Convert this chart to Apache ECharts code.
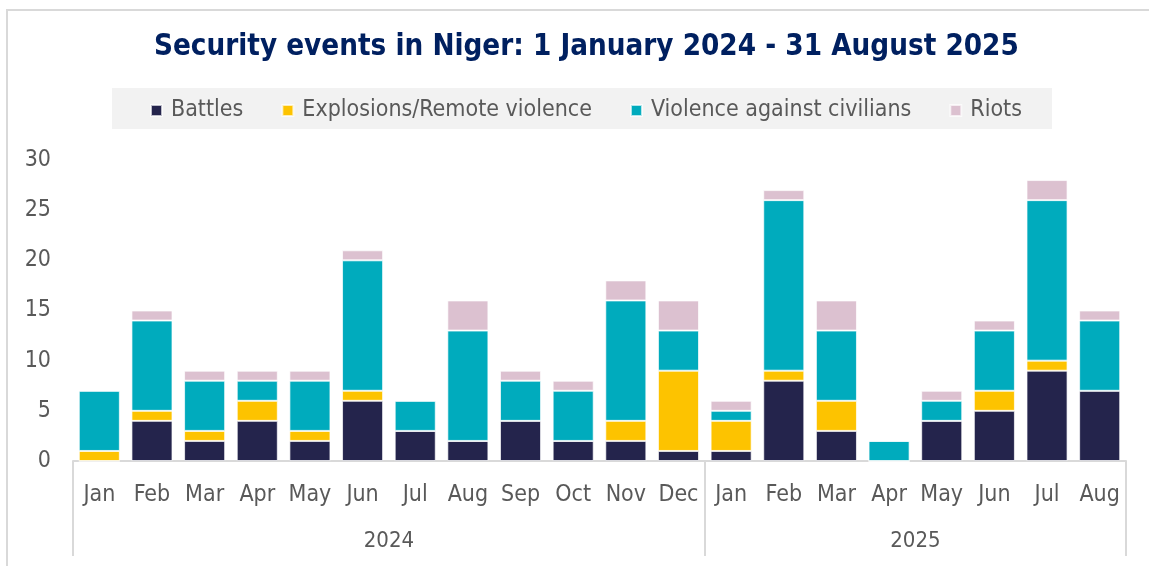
<!DOCTYPE html>
<html>
<head>
<meta charset="utf-8">
<script src="https://cdn.jsdelivr.net/npm/echarts@6/dist/echarts.min.js"></script>
<style>
  html, body { margin: 0; padding: 0; background: #fff; }
  #chart { width: 1149px; height: 566px; }
</style>
</head>
<body>
<div id="chart"></div>
<script>
// months Jan 2024 - Aug 2025
var months = ["Jan", "Feb", "Mar", "Apr", "May", "Jun", "Jul", "Aug", "Sep", "Oct", "Nov", "Dec",
              "Jan", "Feb", "Mar", "Apr", "May", "Jun", "Jul", "Aug"];
var years = ["2024", "2025"];
var battles    = [0, 4, 2, 4, 2, 6, 3, 2, 4, 2, 2, 1,   1, 8, 3, 0, 4, 5, 9, 7];
var explosions = [1, 1, 1, 2, 1, 1, 0, 0, 0, 0, 2, 8,   3, 1, 3, 0, 0, 2, 1, 0];
var civilians  = [6, 9, 5, 2, 5, 13, 3, 11, 4, 5, 12, 4, 1, 17, 7, 2, 2, 6, 16, 7];
var riots      = [0, 1, 1, 1, 1, 1, 0, 3, 1, 1, 2, 3,   1, 1, 3, 0, 1, 1, 2, 1];
var yTicks = [0, 5, 10, 15, 20, 25, 30];

var FONT = '"DejaVu Sans Condensed", "Liberation Sans Narrow", "DejaVu Sans", sans-serif';
var TXT = '#595959';

var myChart = echarts.init(document.getElementById('chart'));

function bar(name, data, color) {
    return {
        name: name,
        type: 'bar',
        stack: 'events',
        data: data,
        barCategoryGap: '22%',
        itemStyle: { color: color, borderColor: 'rgba(255,255,255,0.7)', borderWidth: 1 }
    };
}

var option = {
    backgroundColor: '#fff',
    animation: false,
    graphic: [
        // chart frame
        { type: 'rect', shape: { x: 7, y: 10, width: 1200, height: 600 },
          style: { fill: 'none', stroke: '#d9d9d9', lineWidth: 2 }, z: -10 },
        // legend background
        { type: 'rect', shape: { x: 112, y: 88, width: 940, height: 41 },
          style: { fill: '#f2f2f2' }, z: -5 }
    ],
    title: {
        text: 'Security events in Niger: 1 January 2024 - 31 August 2025',
        left: 149,
        top: 28,
        textStyle: { fontFamily: FONT, fontSize: 29.3, fontWeight: 'bold', color: '#002060' }
    },
    legend: {
        top: 94,
        left: 145,
        itemWidth: 11,
        itemHeight: 11,
        itemGap: 38,
        icon: 'rect',
        textStyle: { fontFamily: FONT, fontSize: 23, color: TXT, padding: [0, 0, 0, 4] },
        data: ['Battles', 'Explosions/Remote violence', 'Violence against civilians', 'Riots']
    },
    grid: { left: 73, right: 23, top: 160, bottom: 105, containLabel: false },
    xAxis: [{
        type: 'category',
        data: months,
        position: 'bottom',
        axisLine: { show: true, lineStyle: { color: '#d9d9d9', width: 2 } },
        axisTick: {
            show: true,
            length: 95,
            lineStyle: { color: '#d9d9d9', width: 2 },
            interval: function (index) { return index === 0 || index === 12; }
        },
        axisLabel: { interval: 0, margin: 23, fontFamily: FONT, fontSize: 23, color: TXT }
    }, {
        type: 'value',
        position: 'bottom',
        offset: 61,
        min: 0,
        max: months.length,
        interval: 2,
        axisLine: { show: false },
        axisTick: { show: false },
        splitLine: { show: false },
        axisLabel: {
            showMinLabel: true, showMaxLabel: true,
            fontFamily: FONT, fontSize: 22, color: TXT,
            formatter: function (v) {
                if (v === 6) return years[0];
                if (v === 16) return years[1];
                return '';
            }
        }
    }],
    yAxis: {
        type: 'value',
        min: yTicks[0],
        max: yTicks[yTicks.length - 1],
        interval: 5,
        axisLine: { show: false },
        axisTick: { show: false },
        splitLine: { show: false },
        axisLabel: { margin: 22, fontFamily: FONT, fontSize: 23, color: TXT }
    },
    color: ['#24244c', '#fdc300', '#00abbd', '#dcc1d0'],
    series: [
        bar('Battles', battles, '#24244c'),
        bar('Explosions/Remote violence', explosions, '#fdc300'),
        bar('Violence against civilians', civilians, '#00abbd'),
        bar('Riots', riots, '#dcc1d0')
    ]
};
myChart.setOption(option);
</script>
</body>
</html>
